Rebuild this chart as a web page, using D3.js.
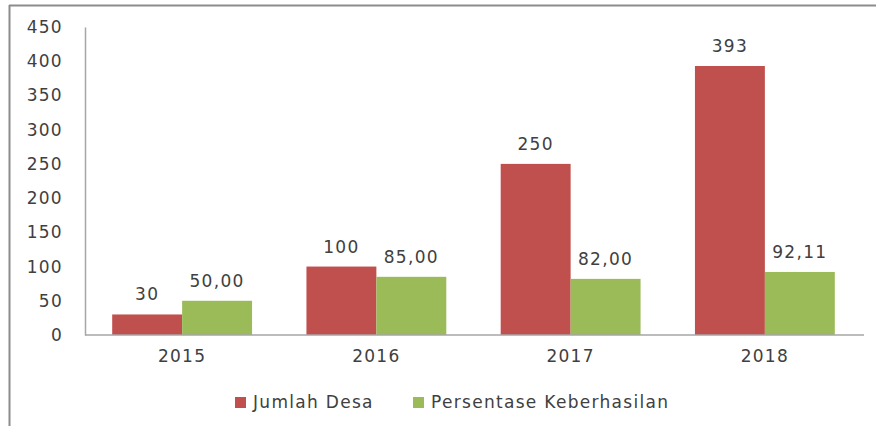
<!DOCTYPE html>
<meta charset="utf-8">
<html>
  <head>
    <style>
      body { margin: 0; background: #fff; }
      svg { display: block; }
      text { font-family: "DejaVu Sans", Verdana, sans-serif; fill: #404040; letter-spacing: 1.3px; }
    </style>
  </head>
  <body>
    <div id="chart"></div>
    <script src="https://d3js.org/d3.v7.min.js"></script>
    <script>
// data
var years = ["2015", "2016", "2017", "2018"]
var jumlahDesa = [30, 100, 250, 393]
var persentase = [50.00, 85.00, 82.00, 92.11]
var yTicks = [0, 50, 100, 150, 200, 250, 300, 350, 400, 450]
var seriesNames = ["Jumlah Desa", "Persentase Keberhasilan"]
var colors = ["#C0504D", "#9BBB59"]

var W = 876, H = 427
var svg = d3.select("#chart").append("svg")
    .attr("width", W)
    .attr("height", H)

// outer frame (top and left edges only visible)
svg.append("line").attr("x1", 9).attr("x2", W).attr("y1", 5.5).attr("y2", 5.5)
    .style("stroke", "#8c8c8c").style("stroke-width", 2)
svg.append("line").attr("x1", 9.5).attr("x2", 9.5).attr("y1", 5).attr("y2", 426)
    .style("stroke", "#8c8c8c").style("stroke-width", 2)

var x0 = d3.scaleBand()
    .domain(years)
    .range([85, 862])
    .paddingInner(0.28)
    .paddingOuter(0.14)

var x1 = d3.scaleBand()
    .domain([0, 1])
    .range([0, x0.bandwidth()])

var y = d3.scaleLinear()
    .domain([0, 450])
    .range([335, 27])

var rows = years.map(function(d, i) {
  return {year: d, values: [jumlahDesa[i], persentase[i]]}
})

// y axis
var yAxis = svg.append("g")
    .attr("transform", "translate(85,0)")
    .call(d3.axisLeft(y).tickValues(yTicks).tickSize(0).tickPadding(22).tickFormat(d3.format("d")))
yAxis.select(".domain").style("stroke", "#a6a6a6").style("stroke-width", 1.5)
yAxis.selectAll("text").style("font-size", "17px").style("fill", "#404040").style("font-family", null)

// bars
var groups = svg.selectAll(".grp")
  .data(rows)
  .enter()
  .append("g")
    .attr("transform", function(d) { return "translate(" + x0(d.year) + ",0)" })

groups.selectAll("rect")
  .data(function(d) { return d.values })
  .enter()
  .append("rect")
    .attr("x", function(d, i) { return x1(i) })
    .attr("width", x1.bandwidth())
    .attr("y", function(d) { return y(d) })
    .attr("height", function(d) { return y(0) - y(d) })
    .style("fill", function(d, i) { return colors[i] })

groups.selectAll(".lbl")
  .data(function(d) { return d.values })
  .enter()
  .append("text")
    .attr("x", function(d, i) { return x1(i) + x1.bandwidth() / 2 })
    .attr("y", function(d) { return y(d) - 14 })
    .attr("text-anchor", "middle")
    .style("font-size", "17px")
    .text(function(d, i) { return i === 0 ? d3.format("d")(d) : d3.format(".2f")(d).replace(".", ",") })

// x axis
var xAxis = svg.append("g")
    .attr("transform", "translate(0,335)")
    .call(d3.axisBottom(x0).tickSize(0).tickPadding(15).tickSizeOuter(0))
xAxis.select(".domain").attr("d", "M85,0H864").style("stroke", "#a6a6a6").style("stroke-width", 1.5)
xAxis.selectAll("text").style("font-size", "17px").style("fill", "#404040").style("font-family", null)

// legend
var legendX = [235, 413]
var legend = svg.selectAll(".leg")
  .data(seriesNames)
  .enter()
  .append("g")
    .attr("transform", function(d, i) { return "translate(" + legendX[i] + ",402)" })
legend.append("rect")
    .attr("x", 0).attr("y", -5)
    .attr("width", 11).attr("height", 11)
    .style("fill", function(d, i) { return colors[i] })
legend.append("text")
    .attr("x", 18)
    .attr("dy", "0.35em")
    .style("font-size", "17px")
    .text(function(d) { return d })
    </script>
  </body>
</html>
